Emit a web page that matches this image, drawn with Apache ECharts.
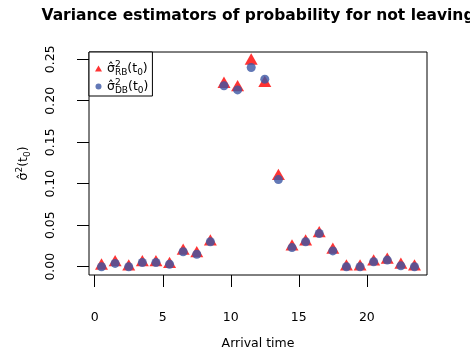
<!DOCTYPE html>
<html>
<head>
<meta charset="utf-8">
<script src="https://cdn.jsdelivr.net/npm/echarts@6/dist/echarts.min.js"></script>
<style>
html,body{margin:0;padding:0;background:#fff;}
#c{width:470px;height:356px;}
</style>
</head>
<body>
<div id="c"></div>
<script>
// ---- data ----
var arrivalTimes = [0.5,1.5,2.5,3.5,4.5,5.5,6.5,7.5,8.5,9.5,10.5,11.5,12.5,13.5,14.5,15.5,16.5,17.5,18.5,19.5,20.5,21.5,22.5,23.5];
var varRB = [0.001,0.005,0.000,0.005,0.005,0.003,0.019,0.016,0.030,0.220,0.216,0.248,0.221,0.109,0.024,0.030,0.040,0.020,0.000,0.000,0.006,0.008,0.002,0.000];
var varDB = [0.000,0.004,0.000,0.005,0.005,0.003,0.018,0.015,0.030,0.218,0.213,0.240,0.226,0.105,0.023,0.030,0.040,0.019,0.000,0.000,0.006,0.008,0.001,0.000];
var xTicks = [0,5,10,15,20];
var yTicks = [0,0.05,0.10,0.15,0.20,0.25];
var titleText = 'Variance estimators of probability for not leaving';
var xName = 'Arrival time';

var FONT = '"DejaVu Sans", "Liberation Sans", Arial, sans-serif';
var RED = '#ff0000';
var BLUE = '#3b56a4';

function pairs(xs, ys){ return xs.map(function(x,i){ return [x, ys[i]]; }); }

var richMath = {
  s:   {fontFamily: FONT, fontSize: 12.5, color:'#000', lineHeight: 17},
  n:   {fontFamily: FONT, fontSize: 12.5, color:'#000', lineHeight: 17},
  sup: {fontFamily: FONT, fontSize: 9, color:'#000', lineHeight: 9, verticalAlign:'top'},
  supz:{fontFamily: FONT, fontSize: 9, color:'#000', lineHeight: 9, verticalAlign:'top', width: 0},
  sub: {fontFamily: FONT, fontSize: 9, color:'#000', lineHeight: 9, verticalAlign:'bottom'}
};

var chart = echarts.init(document.getElementById('c'), null, {renderer:'canvas'});
var TRI_W = 13, TRI_H = 11.3;

chart.setOption({
  animation: false,
  backgroundColor: '#ffffff',
  title: {
    text: titleText,
    left: 258, top: 7.5, padding: 0,
    textAlign: 'center',
    textStyle: {fontFamily: FONT, fontSize: 15.5, fontWeight: 'bold', color: '#000'}
  },
  grid: {
    left: 89, right: 43, top: 52, bottom: 81,
    show: true, borderColor: '#000', borderWidth: 1, backgroundColor: 'transparent'
  },
  legend: {
    orient: 'vertical',
    left: 89, top: 52,
    padding: [8, 4, 1, 6],
    itemGap: 1,
    itemWidth: 7, itemHeight: 6,
    backgroundColor: '#fff',
    borderColor: '#000', borderWidth: 1, borderRadius: 0,
    data: [
      {name: 'RB', icon: 'triangle', itemStyle: {color: RED}},
      {name: 'DB', icon: 'circle', itemStyle: {color: BLUE}}
    ],
    formatter: function(name){
      return '{s|σ̂}{supz|2}{sub|' + name + '}{n|(t}{sub|0}{n|)}';
    },
    textStyle: {rich: richMath, padding: [0,0,0,0]}
  },
  xAxis: {
    type: 'value',
    min: -0.42, max: 24.42,
    name: xName, nameLocation: 'middle', nameGap: 62,
    nameTextStyle: {fontFamily: FONT, fontSize: 12.5, color: '#000'},
    splitLine: {show: false},
    axisLine: {show: false, onZero: false},
    axisTick: {show: true, length: 12, customValues: xTicks, lineStyle: {color:'#000', width: 1}},
    axisLabel: {customValues: xTicks, margin: 36, fontFamily: FONT, fontSize: 12.5, color: '#000'}
  },
  yAxis: {
    type: 'value',
    min: -0.01, max: 0.2587,
    name: '{s|σ̂}{sup|2}{n|(t}{sub|0}{n|)}',
    nameLocation: 'middle', nameGap: 57,
    nameTextStyle: {rich: richMath},
    splitLine: {show: false},
    axisLine: {show: false, onZero: false},
    axisTick: {show: true, length: 12, customValues: yTicks, lineStyle: {color:'#000', width: 1}},
    axisLabel: {customValues: yTicks, rotate: 90, margin: 32, fontFamily: FONT, fontSize: 12.5, color: '#000',
      formatter: function(v){ return v.toFixed(2); }}
  },
  series: [
    {
      name: 'RB', type: 'scatter',
      data: pairs(arrivalTimes, varRB),
      symbol: 'triangle', symbolSize: [TRI_W, TRI_H], symbolOffset: [0, -TRI_H/6],
      itemStyle: {color: RED}, z: 2
    },
    {
      name: 'DB', type: 'scatter',
      data: pairs(arrivalTimes, varDB),
      symbol: 'circle', symbolSize: 9,
      itemStyle: {color: BLUE}, z: 3
    }
  ]
});
</script>
</body>
</html>
